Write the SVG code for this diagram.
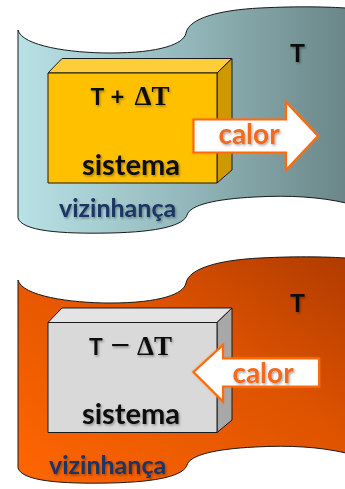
<svg xmlns="http://www.w3.org/2000/svg" width="345" height="489" viewBox="0 0 345 489">
  <defs>
    <linearGradient id="coolGrad" x1="0" y1="0" x2="1" y2="0">
      <stop offset="0" stop-color="#b9e2e6"/>
      <stop offset="0.5" stop-color="#94b9bc"/>
      <stop offset="1" stop-color="#6a8688"/>
    </linearGradient>
    <linearGradient id="hotGrad" x1="0" y1="1" x2="1" y2="0">
      <stop offset="0" stop-color="#ff6600"/>
      <stop offset="0.6" stop-color="#de5300"/>
      <stop offset="1" stop-color="#b03b00"/>
    </linearGradient>
    <filter id="txtShadow" x="-10%" y="-20%" width="130%" height="150%">
      <feDropShadow dx="1.2" dy="1.5" stdDeviation="0.9" flood-color="#000" flood-opacity="0.35"/>
    </filter>
    <filter id="glow" x="-10%" y="-20%" width="120%" height="140%">
      <feGaussianBlur in="SourceAlpha" stdDeviation="1.2" result="b"/>
      <feFlood flood-color="#ff7a20" flood-opacity="0.6"/>
      <feComposite in2="b" operator="in" result="g"/>
      <feMerge><feMergeNode in="g"/><feMergeNode in="SourceGraphic"/></feMerge>
    </filter>
    <!-- wavy "surroundings" sheet, reused for both panels -->
    <path id="wave" d="M18,30 C22,46 70,53 110,53 C160,53 184,44 186,33 C189,18 220,10 260,8 C300,6 330,7 346,8 L346,203 C320,197 290,195 255,197 C215,199 190,205 187,215 C184,225 160,232 110,233 C60,234 22,231 18,218 Z"/>
  </defs>
  <style>
    .edge { stroke: #1a1a1a; stroke-width: 1; stroke-linejoin: round; }
    .lbl { font-family: Lato, "Liberation Sans", sans-serif; font-weight: bold; }
    .math { font-family: "Liberation Serif", "DejaVu Serif", serif; font-weight: bold; }
    .dark { fill: #111111; }
    .navy { fill: #1b3566; }
    .calor { fill: #f26a1b; }
    .arrow { fill: #ffffff; stroke: #ff6a10; stroke-width: 2.2; stroke-linejoin: miter; }
  </style>

  <!-- upper scene: hot system losing heat -->
  <g id="vizinhanca-quente-sistema">
    <use href="#wave" fill="url(#coolGrad)" class="edge"/>
    <text class="lbl dark" x="297.5" y="62" font-size="25" text-anchor="middle" filter="url(#txtShadow)">T</text>
    <text class="lbl navy" x="59" y="217" font-size="25" filter="url(#txtShadow)">vizinhança</text>
  </g>
  <g id="sistema-quente">
    <polygon points="48,73 62,58.5 232,58.5 217,73" fill="#ffcd3a" class="edge"/>
    <polygon points="217,73 232,58.5 232,170 217,183" fill="#cc9a00" class="edge"/>
    <rect x="48" y="73" width="169" height="110" fill="#ffc000" class="edge"/>
    <text y="105" filter="url(#txtShadow)" class="dark"><tspan class="lbl" font-size="23" x="90.5">T</tspan><tspan class="lbl" font-size="24" x="110.5">+</tspan><tspan class="math" font-size="27" x="134.5">ΔT</tspan></text>
    <text class="lbl dark" x="131" y="174.5" font-size="29" text-anchor="middle" filter="url(#txtShadow)">sistema</text>
  </g>

  <!-- lower scene: cold system gaining heat -->
  <g id="vizinhanca-fria-sistema" transform="translate(0,250)">
    <use href="#wave" fill="url(#hotGrad)" class="edge"/>
    <text class="lbl dark" x="297.5" y="61.5" font-size="25" text-anchor="middle" filter="url(#txtShadow)">T</text>
    <text class="lbl navy" x="49" y="223.5" font-size="25" filter="url(#txtShadow)">vizinhança</text>
  </g>
  <g id="sistema-frio">
    <polygon points="48,322.5 62,308 232,308 217,322.5" fill="#e4e4e4" class="edge"/>
    <polygon points="217,322.5 232,308 232,420 217,432.5" fill="#a8a8a8" class="edge"/>
    <rect x="48" y="322.5" width="169" height="110" fill="#d9d9d9" class="edge"/>
    <text y="354.5" filter="url(#txtShadow)" class="dark"><tspan class="lbl" font-size="23" x="89">T</tspan><tspan class="math" font-size="30" x="110" textLength="20" lengthAdjust="spacingAndGlyphs">−</tspan><tspan class="math" font-size="27" x="137">ΔT</tspan></text>
    <text class="lbl dark" x="131" y="424" font-size="29" text-anchor="middle" filter="url(#txtShadow)">sistema</text>
  </g>

  <!-- heat flow arrows -->
  <g id="fluxos">
    <g id="calor-saida" filter="url(#glow)">
      <polygon class="arrow" points="193.5,119.5 286,119.5 286,102 318,136 286,170 286,152.5 193.5,152.5"/>
      <text class="lbl calor" x="249" y="144" font-size="28" text-anchor="middle" filter="url(#txtShadow)">calor</text>
    </g>
    <g id="calor-entrada" filter="url(#glow)">
      <polygon class="arrow" points="319,358.5 223,358.5 223,345 193.5,372 223,401.5 223,386.5 319,386.5"/>
      <text class="lbl calor" x="263" y="382.5" font-size="28" text-anchor="middle" filter="url(#txtShadow)">calor</text>
    </g>
  </g>
</svg>
